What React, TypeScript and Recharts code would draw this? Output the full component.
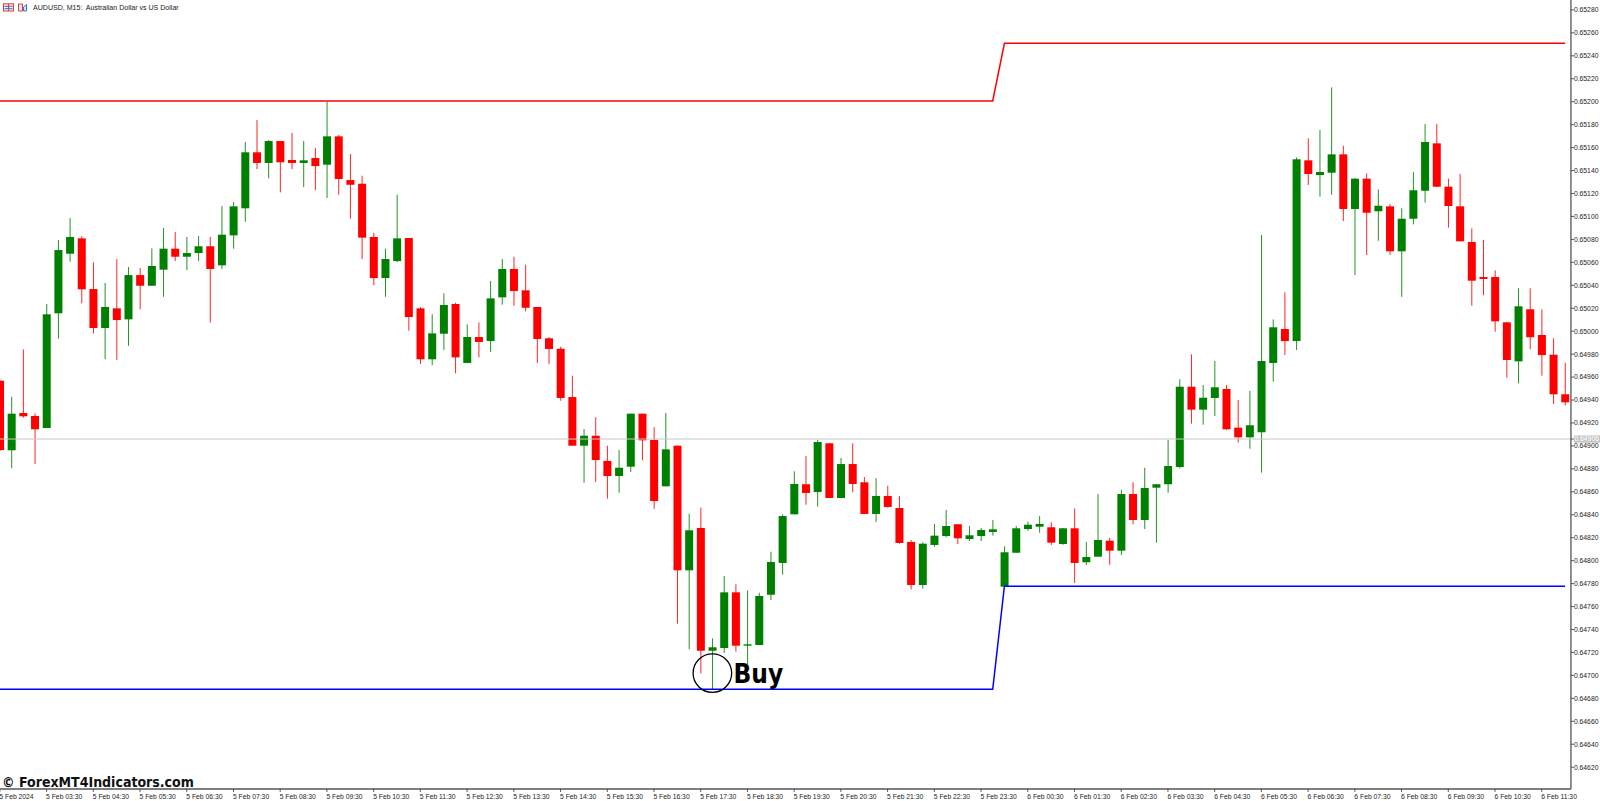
import React from "react";
import { ComposedChart, Bar, Line, XAxis, YAxis, ReferenceLine, ReferenceDot } from "recharts";

// AUDUSD M15 candles, in points (1 point = 0.00001)
const openPts = [
  64956.8, 64896.2, 64928.7, 64926.1, 64915.6, 65015.6, 65067.5, 65080.9, 65036.7, 65002.8,
  65019.9, 65010.3, 65048.9, 65039.6, 65053.6, 65071.9, 65064.9, 65068.1, 65074.0, 65057.4,
  65083.5, 65107.1, 65155.9, 65146.6, 65165.7, 65149.2, 65146.6, 65150.9, 65145.1, 65169.8,
  65131.7, 65128.5, 65082.1, 65046.3, 65061.1, 65081.2, 65019.9, 64975.5, 64997.8, 65023.7,
  64972.3, 64994.9, 64991.4, 65029.5, 65054.2, 65035.6, 65021.1, 64993.8, 64984.7, 64942.6,
  64900.2, 64908.9, 64886.9, 64873.8, 64881.9, 64928.1, 64905.2, 64864.8, 64900.2, 64791.6,
  64828.5, 64721.5, 64723.9, 64772.4, 64725.9, 64726.5, 64770.3, 64798.0, 64840.4, 64866.6,
  64859.8, 64902.3, 64854.6, 64884.2, 64868.3, 64840.7, 64856.4, 64845.9, 64816.3, 64778.8,
  64813.7, 64821.5, 64831.7, 64818.9, 64821.5, 64825.0, 64777.3, 64806.9, 64827.6, 64829.6,
  64829.1, 64814.5, 64828.2, 64798.6, 64803.5, 64817.4, 64808.7, 64858.1, 64835.4, 64863.6,
  64866.6, 64881.6, 64951.6, 64931.6, 64941.8, 64949.6, 64915.9, 64907.5, 64911.9, 64972.3,
  65001.9, 64991.4, 65148.9, 65136.1, 65138.1, 65154.1, 65106.5, 65132.9, 65104.5, 65108.8,
  65069.6, 65098.0, 65122.4, 65163.7, 65125.9, 65108.8, 65077.7, 65047.2, 65047.2, 65007.7,
  64973.7, 65019.1, 64996.7, 64979.5, 64945.0,
];
const highPts = [
  64957.4, 64942.9, 64984.2, 64928.4, 65023.7, 65079.4, 65098.6, 65082.9, 65060.0, 65042.0,
  65062.9, 65055.9, 65055.0, 65072.2, 65089.9, 65086.4, 65082.1, 65082.9, 65082.1, 65109.1,
  65112.6, 65164.9, 65184.0, 65166.6, 65165.7, 65172.7, 65165.7, 65159.6, 65200.0, 65171.0,
  65154.4, 65135.5, 65085.8, 65071.9, 65118.9, 65081.2, 65021.1, 65014.7, 65033.0, 65024.8,
  65006.0, 65007.7, 65043.7, 65062.9, 65064.9, 65057.9, 65021.1, 64994.9, 64986.5, 64961.2,
  64914.7, 64924.9, 64900.2, 64896.4, 64928.1, 64928.1, 64916.2, 64928.7, 64900.2, 64840.9,
  64846.2, 64732.3, 64786.6, 64779.4, 64774.2, 64772.1, 64807.8, 64840.4, 64877.9, 64891.2,
  64905.2, 64902.5, 64889.5, 64902.3, 64872.9, 64872.0, 64865.3, 64856.4, 64818.0, 64816.0,
  64832.0, 64844.2, 64832.0, 64830.2, 64828.5, 64835.4, 64812.5, 64830.2, 64834.0, 64838.9,
  64833.4, 64828.5, 64845.6, 64816.3, 64858.1, 64819.8, 64861.8, 64868.3, 64881.0, 64866.8,
  64905.2, 64958.1, 64979.8, 64953.1, 64974.0, 64953.1, 64940.0, 64947.9, 65083.8, 65010.3,
  65033.9, 65151.5, 65168.1, 65175.3, 65212.5, 65161.6, 65133.5, 65137.6, 65123.6, 65110.8,
  65107.1, 65138.7, 65180.5, 65180.5, 65132.9, 65137.0, 65089.6, 65079.4, 65053.0, 65008.0,
  65037.4, 65037.4, 65019.1, 64993.8, 64972.5,
];
const lowPts = [
  64895.6, 64880.5, 64924.6, 64884.2, 64915.6, 64993.4, 65060.5, 65024.3, 64998.1, 64975.5,
  64974.9, 64987.3, 65019.1, 65039.6, 65030.0, 65061.1, 65053.3, 65061.1, 65007.4, 65054.2,
  65071.9, 65095.4, 65141.3, 65133.2, 65121.0, 65141.3, 65125.6, 65123.0, 65116.1, 65118.9,
  65098.0, 65062.9, 65040.2, 65030.0, 65060.3, 65000.4, 64971.4, 64970.3, 64983.6, 64963.3,
  64972.3, 64977.2, 64981.8, 65023.1, 65022.2, 65017.3, 64972.3, 64971.4, 64939.4, 64900.2,
  64867.9, 64868.6, 64854.0, 64859.2, 64877.3, 64887.5, 64845.3, 64864.8, 64745.1, 64722.8,
  64701.8, 64687.3, 64719.5, 64720.7, 64709.9, 64726.5, 64765.7, 64787.8, 64840.4, 64848.8,
  64847.0, 64854.6, 64854.6, 64859.6, 64840.7, 64833.7, 64846.2, 64814.8, 64775.0, 64775.6,
  64812.2, 64820.4, 64814.5, 64817.1, 64817.1, 64821.8, 64777.3, 64806.9, 64826.1, 64824.4,
  64813.7, 64813.9, 64780.5, 64796.2, 64803.5, 64796.5, 64804.9, 64831.7, 64827.6, 64815.7,
  64859.2, 64880.5, 64919.4, 64918.5, 64926.1, 64913.9, 64902.8, 64897.6, 64876.7, 64956.0,
  64979.2, 64983.6, 65127.4, 65117.2, 65118.9, 65096.0, 65048.9, 65066.4, 65078.8, 65066.4,
  65030.0, 65093.1, 65112.0, 65125.4, 65090.2, 65078.3, 65022.2, 65031.3, 64999.5, 64959.5,
  64954.6, 64984.2, 64961.2, 64936.5, 64935.1,
];
const closePts = [
  64896.4, 64928.1, 64925.8, 64914.5, 65014.7, 65070.7, 65082.1, 65036.5, 65002.8, 65021.1,
  65009.7, 65048.9, 65039.6, 65056.8, 65071.9, 65064.9, 65068.1, 65074.0, 65054.2, 65084.1,
  65108.8, 65155.9, 65146.6, 65165.7, 65147.2, 65146.6, 65148.9, 65143.9, 65169.8, 65132.6,
  65127.6, 65081.5, 65046.3, 65062.9, 65080.9, 65012.3, 64975.5, 64998.1, 65022.8, 64977.2,
  64994.9, 64990.6, 65028.6, 65054.2, 65035.0, 65020.4, 64993.2, 64984.5, 64941.8, 64900.2,
  64908.9, 64887.7, 64873.8, 64881.0, 64928.1, 64904.9, 64852.0, 64897.0, 64791.6, 64826.5,
  64721.5, 64724.5, 64772.4, 64725.9, 64727.1, 64769.2, 64798.8, 64838.9, 64866.8, 64859.0,
  64903.4, 64854.6, 64884.2, 64866.8, 64840.7, 64856.4, 64846.8, 64815.4, 64778.8, 64814.8,
  64821.8, 64830.2, 64819.5, 64822.1, 64826.7, 64827.3, 64807.3, 64828.2, 64831.3, 64832.0,
  64815.7, 64828.2, 64798.0, 64803.2, 64818.0, 64808.7, 64858.1, 64835.4, 64863.3, 64866.6,
  64882.5, 64951.6, 64931.6, 64942.0, 64951.1, 64914.5, 64907.5, 64918.0, 64974.0, 65003.4,
  64991.4, 65149.8, 65137.0, 65138.7, 65154.1, 65106.5, 65132.9, 65103.2, 65109.3, 65069.6,
  65098.0, 65122.8, 65164.9, 65125.9, 65109.1, 65078.3, 65044.0, 65045.5, 65008.6, 64974.9,
  65021.7, 64994.7, 64979.2, 64945.0, 64938.0,
];

// Channel levels (points) before and after the step at candle 86
const upperLevels = [65200.6, 65250.9];
const lowerLevels = [64687.9, 64777.7];
const levelStepIndex = 86;
const currentPrice = 0.64906;
const buyPrice = 0.64702;
const buyIndex = 61;

const priceTicks = [
  0.6528, 0.6526, 0.6524, 0.6522, 0.652, 0.6518, 0.6516, 0.6514, 0.6512, 0.651, 0.6508, 0.6506,
  0.6504, 0.6502, 0.65, 0.6498, 0.6496, 0.6494, 0.6492, 0.6490, 0.6488, 0.6486, 0.6484, 0.6482,
  0.648, 0.6478, 0.6476, 0.6474, 0.6472, 0.647, 0.6468, 0.6466, 0.6464, 0.6462,
];
const timeLabels = [
  "5 Feb 2024", "5 Feb 03:30", "5 Feb 04:30", "5 Feb 05:30", "5 Feb 06:30", "5 Feb 07:30", "5 Feb 08:30",
  "5 Feb 09:30", "5 Feb 10:30", "5 Feb 11:30", "5 Feb 12:30", "5 Feb 13:30", "5 Feb 14:30", "5 Feb 15:30",
  "5 Feb 16:30", "5 Feb 17:30", "5 Feb 18:30", "5 Feb 19:30", "5 Feb 20:30", "5 Feb 21:30", "5 Feb 22:30",
  "5 Feb 23:30", "6 Feb 00:30", "6 Feb 01:30", "6 Feb 02:30", "6 Feb 03:30", "6 Feb 04:30", "6 Feb 05:30",
  "6 Feb 06:30", "6 Feb 07:30", "6 Feb 08:30", "6 Feb 09:30", "6 Feb 10:30", "6 Feb 11:30",
];
const timeTickEvery = 4;

const rows = openPts.map((o, i) => ({
  k: i,
  open: o / 1e5,
  high: highPts[i] / 1e5,
  low: lowPts[i] / 1e5,
  close: closePts[i] / 1e5,
  range: [lowPts[i] / 1e5, highPts[i] / 1e5],
  upper: (i < levelStepIndex ? upperLevels[0] : upperLevels[1]) / 1e5,
  lower: (i < levelStepIndex ? lowerLevels[0] : lowerLevels[1]) / 1e5,
}));
const timeTicks = timeLabels.map((_, i) => i * timeTickEvery);

const GREEN = "#008000";
const RED = "#ff0000";
const AXIS_FONT = "'Liberation Sans', Arial, sans-serif";
const HEAVY_FONT = "'DejaVu Sans Condensed', 'DejaVu Sans', sans-serif";

function Candle(props: any) {
  const { x, y, width, height, payload } = props;
  const cx = x + width / 2;
  const top0 = Math.min(y, y + height);
  const h = Math.abs(height);
  const perUnit = h / (payload.high - payload.low);
  const yOf = (p: number) => top0 + (payload.high - p) * perUnit;
  const top = yOf(Math.max(payload.open, payload.close));
  const bottom = yOf(Math.min(payload.open, payload.close));
  const color = payload.close >= payload.open ? GREEN : RED;
  return (
    <g>
      <rect x={cx - 0.5} y={top0} width={1} height={h} fill={color} fillOpacity={0.85} />
      <rect x={cx - 4} y={top} width={8} height={Math.max(bottom - top, 1.2)} fill={color} />
    </g>
  );
}

function PriceTick(props: any) {
  const { x, y, payload } = props;
  const v = payload.value;
  const isCurrent = Math.abs(v - currentPrice) < 1e-7;
  const text = v.toFixed(5);
  if (isCurrent) {
    return (
      <g>
        <rect x={x} y={y - 3.6} width={27} height={7.2} fill="#c4c4c4" />
        <text x={x + 0.5} y={y + 2.4} fontSize={6.8} fontFamily={AXIS_FONT} fill="#ffffff">{text}</text>
      </g>
    );
  }
  return <text x={x} y={y + 2.4} fontSize={6.8} fontFamily={AXIS_FONT} fill="#222222">{text}</text>;
}

function TimeTick(props: any) {
  const { x, payload } = props;
  return (
    <text x={x - 0.5} y={798.8} fontSize={6.8} fontFamily={AXIS_FONT} fill="#222222">
      {timeLabels[payload.value / timeTickEvery]}
    </text>
  );
}

const overlay = (style: React.CSSProperties): React.CSSProperties => ({
  position: "absolute",
  whiteSpace: "nowrap",
  color: "#000",
  ...style,
});

export default function App() {
  return (
    <div style={{ position: "absolute", left: 0, top: 0, width: 1600, height: 801, overflow: "hidden", background: "#fff" }}>
      <div style={{ position: "absolute", left: -6.24, top: 0 }}>
        <ComposedChart
          width={1606.24}
          height={801}
          data={rows}
          barSize={8}
          margin={{ top: 0, right: 0, bottom: 0, left: 0 }}
        >
          <XAxis
            dataKey="k"
            height={12}
            ticks={timeTicks}
            interval={0}
            tickSize={3}
            tickMargin={0}
            axisLine={{ stroke: "#555555", strokeWidth: 1.3 }}
            tickLine={{ stroke: "#333333", strokeWidth: 0.8 }}
            tick={<TimeTick />}
            padding={{ left: 0, right: 0 }}
          />
          <YAxis
            orientation="right"
            width={29.3}
            type="number"
            domain={[0.64601, 0.6528863]}
            allowDataOverflow
            ticks={[...priceTicks, currentPrice]}
            interval={0}
            tickSize={3}
            tickMargin={0}
            axisLine={{ stroke: "#555555", strokeWidth: 1.3 }}
            tickLine={{ stroke: "#333333", strokeWidth: 0.8 }}
            tick={<PriceTick />}
          />
          <ReferenceLine y={currentPrice} stroke="#c8c8c8" strokeWidth={1} />
          <Bar dataKey="range" shape={<Candle />} isAnimationActive={false} />
          <Line dataKey="upper" stroke={RED} strokeWidth={1.5} dot={false} activeDot={false} isAnimationActive={false} />
          <Line dataKey="lower" stroke="#0000ff" strokeWidth={1.5} dot={false} activeDot={false} isAnimationActive={false} />
          <ReferenceDot x={buyIndex} y={buyPrice} r={19.3} fill="none" stroke="#000000" strokeWidth={1.3} />
        </ComposedChart>
      </div>

      <svg style={{ position: "absolute", left: 3, top: 2.5 }} width={28} height={9}>
        <rect x={0.5} y={0.8} width={10} height={7.2} fill="#f6e6e6" stroke="#d84040" strokeWidth={1} />
        <line x1={5.5} y1={1} x2={5.5} y2={8} stroke="#d84040" strokeWidth={1} />
        <line x1={1.5} y1={3.3} x2={9.5} y2={3.3} stroke="#4070c8" strokeWidth={1} />
        <line x1={1.5} y1={5.7} x2={9.5} y2={5.7} stroke="#4070c8" strokeWidth={1} />
        <path d="M15.5 1 h4 v7 h-4 z" fill="#fbe9e9" stroke="#d84040" strokeWidth={1} />
        <path d="M20.5 8 v-4 l3 -2.5 v6.5 z" fill="#cfe0f5" stroke="#3b78c8" strokeWidth={1} />
      </svg>
      <div style={overlay({ left: 33, top: 3, fontSize: 7.05, lineHeight: "9px", fontFamily: AXIS_FONT, color: "#222" })}>
        AUDUSD, M15:&nbsp; Australian Dollar vs US Dollar
      </div>
      <div style={overlay({ left: 733.5, top: 659, fontSize: 26, lineHeight: "30px", fontWeight: 700, fontFamily: HEAVY_FONT })}>
        Buy
      </div>
      <div style={overlay({ left: 2, top: 774, fontSize: 14, lineHeight: "17px", fontWeight: 700, fontFamily: HEAVY_FONT, color: "#111" })}>
        © ForexMT4Indicators.com
      </div>
    </div>
  );
}
